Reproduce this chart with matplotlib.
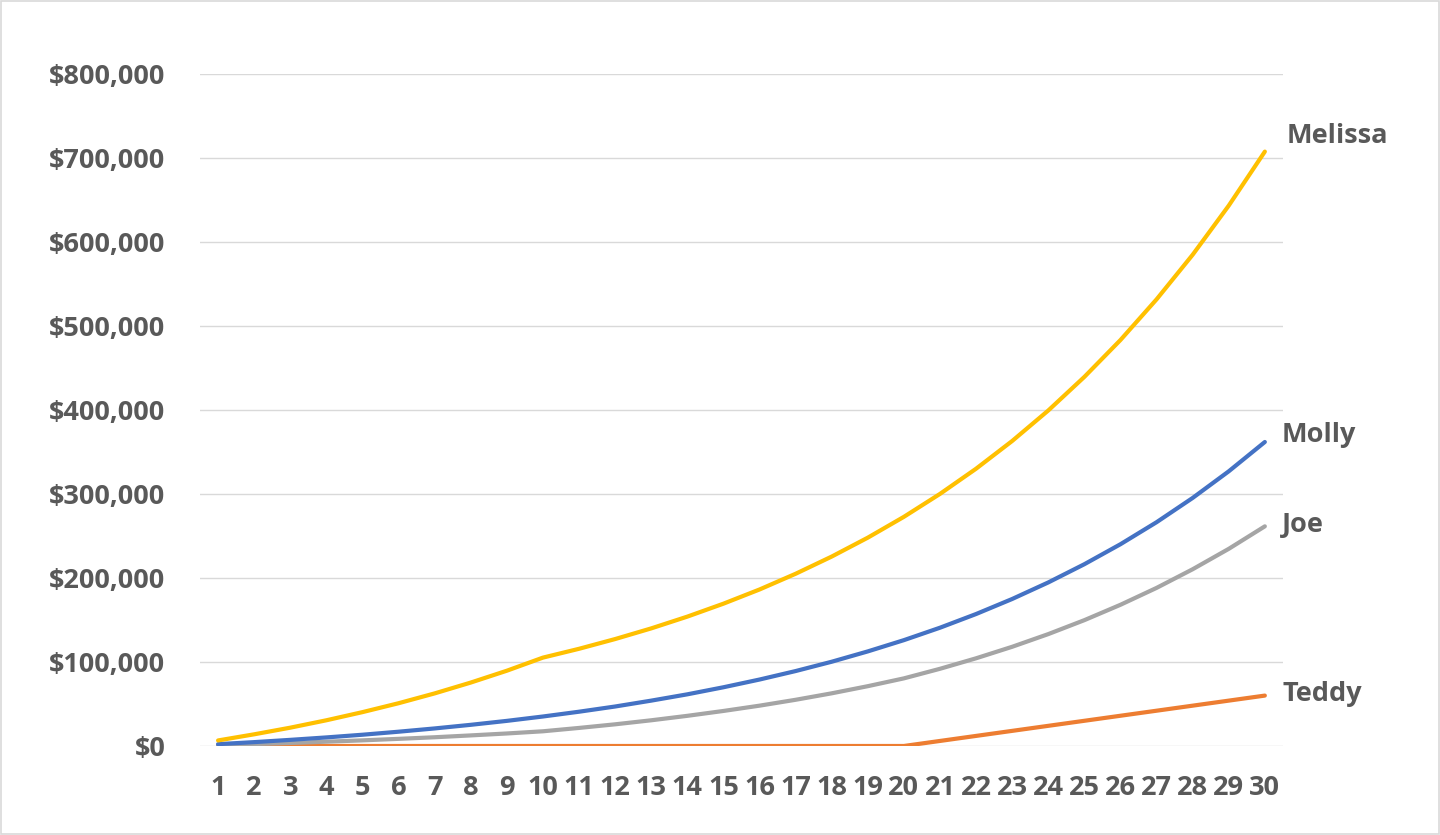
import matplotlib.pyplot as plt
from matplotlib.ticker import FuncFormatter
from matplotlib.patches import Rectangle

# Years on the x axis
years = list(range(1, 31))

# Balances ($)
melissa = [6600, 13900, 21800, 30600, 40300, 50900, 62600, 75500, 89600, 105200,
           115700, 127300, 140000, 154000, 169400, 186300, 205000, 225500, 248000, 272800,
           300100, 330100, 363100, 399400, 439400, 483300, 531700, 584800, 643300, 707600]
molly = [2200, 4600, 7300, 10200, 13400, 17000, 20900, 25200, 29900, 35100,
         40800, 47000, 54000, 61500, 69900, 79100, 89200, 100300, 112600, 126000,
         140800, 157100, 175000, 194700, 216400, 240200, 266400, 295300, 327000, 361900]
joe = [1100, 2300, 3600, 5100, 6700, 8500, 10400, 12600, 14900, 17500,
       21500, 25800, 30600, 35900, 41700, 48000, 55000, 62700, 71200, 80500,
       91900, 104400, 118100, 133200, 149800, 168100, 188200, 210400, 234700, 261500]
teddy = [0] * 20 + [6000, 12000, 18000, 24000, 30000, 36000, 42000, 48000, 54000, 60000]

names = ['Melissa', 'Molly', 'Joe', 'Teddy']
series = [melissa, molly, joe, teddy]
colors = ['#FFC000', '#4472C4', '#A5A5A5', '#ED7D31']
# nudge (points) for the end labels
label_dx = [16, 12, 12, 13]
label_dy = [11, 5, 1, 1]

plt.rcParams['font.family'] = ['Open Sans', 'DejaVu Sans']
txt = '#595959'

fig = plt.figure(figsize=(14.4, 8.35), dpi=100)
ax = fig.add_axes([0.1389, 0.1066, 0.752, 0.8048])

# draw order: teddy, joe, molly, melissa on top
for name, vals, c in list(zip(names, series, colors))[::-1]:
    ax.plot(years, vals, color=c, lw=3.0, solid_capstyle='round',
            solid_joinstyle='round', zorder=3)

for name, vals, dx, dy in zip(names, series, label_dx, label_dy):
    ax.annotate(name, xy=(years[-1], vals[-1]), xytext=(dx, dy),
                textcoords='offset points', va='center', ha='left',
                fontsize=19.5, fontweight='bold', color=txt,
                annotation_clip=False)

ax.set_xlim(0.5, 30.5)
ax.set_ylim(0, 800000)
ax.set_xticks(years)
ax.set_yticks(range(0, 800001, 100000))
ax.yaxis.set_major_formatter(FuncFormatter(lambda v, p: f'${v:,.0f}'))

ax.grid(axis='y', color='#D9D9D9', lw=1)
ax.set_axisbelow(True)
for s in ax.spines.values():
    s.set_visible(False)
ax.tick_params(axis='both', length=0, labelsize=19.5, labelcolor=txt)
ax.tick_params(axis='y', pad=25)
ax.tick_params(axis='x', pad=21)
for lab in ax.get_xticklabels() + ax.get_yticklabels():
    lab.set_fontweight('bold')

# chart border
fig.patches.append(Rectangle((0.0007, 0.001), 0.9986, 0.998, transform=fig.transFigure,
                             fill=False, edgecolor='#D9D9D9', lw=1.2))

fig.savefig('out.png', dpi=100)
